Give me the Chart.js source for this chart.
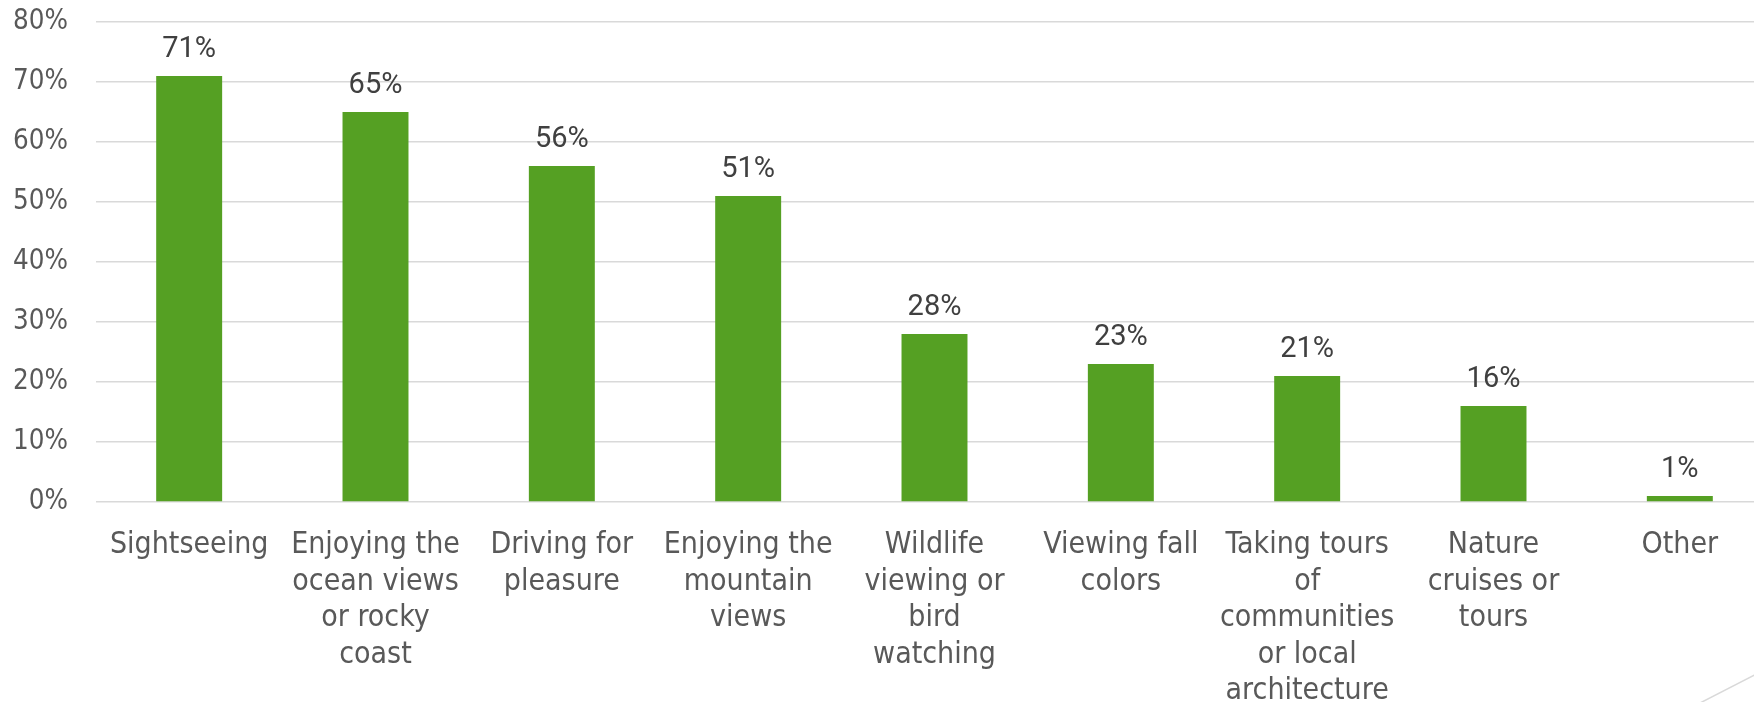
<!DOCTYPE html>
<html>
<head>
<meta charset="utf-8">
<script src="https://cdn.jsdelivr.net/npm/chart.js@4/dist/chart.umd.min.js"></script>
<style>
  html, body { margin: 0; padding: 0; background: #ffffff; overflow: hidden; }
  #wrap { width: 1780px; height: 702px; }
</style>
</head>
<body>
<div id="wrap"><canvas id="chart" width="1780" height="702"></canvas></div>
<script>
// Activities (multi-line category labels)
const categories = [
  ['Sightseeing'],
  ['Enjoying the', 'ocean views', 'or rocky', 'coast'],
  ['Driving for', 'pleasure'],
  ['Enjoying the', 'mountain', 'views'],
  ['Wildlife', 'viewing or', 'bird', 'watching'],
  ['Viewing fall', 'colors'],
  ['Taking tours', 'of', 'communities', 'or local', 'architecture'],
  ['Nature', 'cruises or', 'tours'],
  ['Other']
];

// Share of respondents, percent
const shares = [71, 65, 56, 51, 28, 23, 21, 16, 1];

// Value axis
const yTickMin = 0;
const yTickMax = 80;
const yTickStep = 10;

const axisFont = '"DejaVu Sans Condensed", "DejaVu Sans", Lato, sans-serif';

// Percent labels above each bar
const barValueLabels = {
  id: 'barValueLabels',
  afterDatasetsDraw(chart) {
    const ctx = chart.ctx;
    const meta = chart.getDatasetMeta(0);
    const values = chart.data.datasets[0].data;
    ctx.save();
    ctx.font = '29px Roboto, "Open Sans", sans-serif';
    ctx.fillStyle = '#404040';
    ctx.textAlign = 'center';
    ctx.textBaseline = 'alphabetic';
    meta.data.forEach((bar, i) => {
      ctx.fillText(values[i] + '%', bar.x, bar.y - 19);
    });
    ctx.restore();
  }
};

// Thin slide accent line in the lower right corner
const cornerAccent = {
  id: 'cornerAccent',
  afterDraw(chart) {
    const ctx = chart.ctx;
    ctx.save();
    ctx.strokeStyle = '#d9d9d9';
    ctx.lineWidth = 1.5;
    ctx.beginPath();
    ctx.moveTo(1700, 703);
    ctx.lineTo(1780, 662);
    ctx.stroke();
    ctx.restore();
  }
};

new Chart(document.getElementById('chart'), {
  type: 'bar',
  data: {
    labels: categories,
    datasets: [{
      data: shares,
      backgroundColor: '#55a023',
      borderWidth: 0,
      barPercentage: 1,
      categoryPercentage: 0.354
    }]
  },
  options: {
    responsive: false,
    animation: false,
    events: [],
    layout: { padding: { top: 22, right: 7, bottom: 0, left: 0 } },
    plugins: {
      legend: { display: false },
      tooltip: { enabled: false },
      title: { display: false }
    },
    scales: {
      x: {
        grid: { display: false },
        border: { display: false },
        ticks: {
          color: '#595959',
          font: { family: axisFont, size: 30, lineHeight: 1.22 },
          padding: 17,
          autoSkip: false,
          maxRotation: 0,
          minRotation: 0
        },
        afterFit(scale) {
          scale.height = 200;
          scale.paddingLeft = 0;
          scale.paddingRight = 0;
        }
      },
      y: {
        min: yTickMin,
        max: yTickMax,
        border: { display: false },
        grid: { color: '#d9d9d9', lineWidth: 1.5, drawTicks: false },
        ticks: {
          stepSize: yTickStep,
          color: '#595959',
          font: { family: axisFont, size: 27.5 },
          padding: 28,
          callback: (v) => v + '%'
        },
        afterFit(scale) {
          scale.width = 96;
          scale.paddingTop = 0;
          scale.paddingBottom = 0;
        }
      }
    }
  },
  plugins: [barValueLabels, cornerAccent]
});
</script>
</body>
</html>
